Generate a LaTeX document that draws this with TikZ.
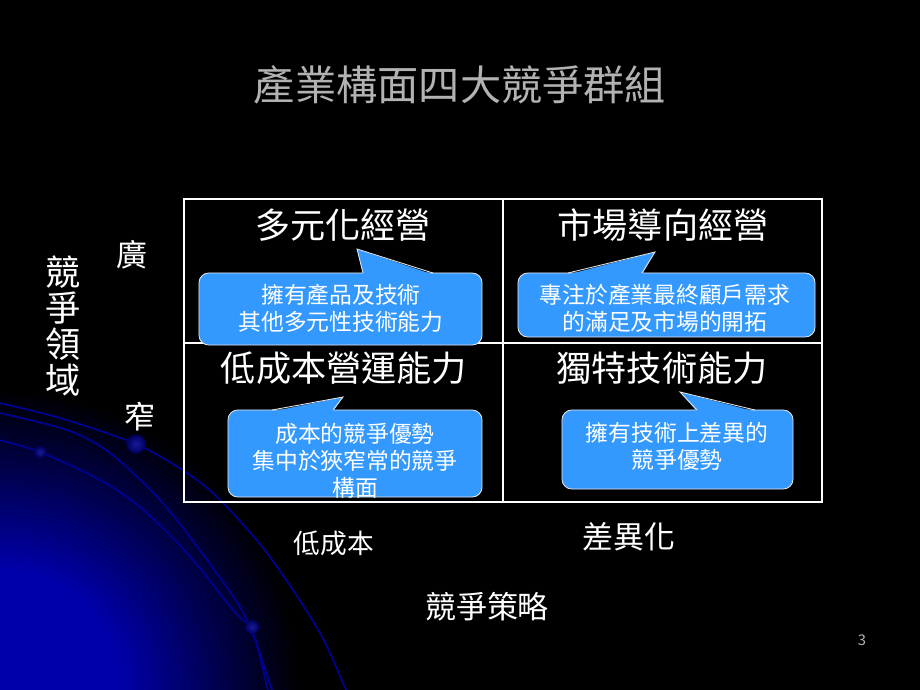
\documentclass[tikz,border=0pt]{standalone}
\usepackage{fontspec}
\setmainfont{Noto Sans CJK TC}
\usepackage{xcolor}
\usetikzlibrary{positioning}

\definecolor{calloutblue}{RGB}{51,153,255}
\definecolor{titlegray}{RGB}{178,178,178}
\definecolor{swirlblue}{RGB}{0,0,150}
\definecolor{glowblue}{RGB}{0,0,170}
\definecolor{dotinner}{RGB}{25,25,150}
\definecolor{dotouter}{RGB}{0,0,95}
\pgfdeclareradialshading{cornerglow}{\pgfpoint{0bp}{0bp}}{color(0bp)=(glowblue); color(10bp)=(glowblue); color(25bp)=(black); color(50bp)=(black)}

\begin{document}
\begin{tikzpicture}[
    x=0.025cm, y=-0.025cm,
    titletext/.style={text=titlegray, font=\fontsize{29.3}{33}\selectfont, inner sep=0pt},
    cellhead/.style={text=white, font=\fontsize{25}{28}\selectfont, inner sep=0pt},
    axislabel/.style={text=white, inner sep=0pt},
    calloutbox/.style={rectangle, rounded corners=7pt, fill=calloutblue, draw=white!80!gray, line width=0.6pt, inner sep=0pt},
    callouttext/.style={text=white, align=center, font=\fontsize{16.2}{19.2}\selectfont, inner sep=0pt},
    pointerfill/.style={fill=calloutblue},
    pointerline/.style={draw=white!80!gray, line width=0.6pt},
    gridline/.style={draw=white, line width=1.3pt},
    swirl/.style={draw=swirlblue, line width=1.2pt},
    dot/.style={inner color=dotinner, outer color=dotouter}
]

% === Background ===
\fill[black] (0,0) rectangle (920,690);
\begin{scope}
\clip (0,0) rectangle (920,690);
\shade[shading=cornerglow] (0,690) circle (300);
\draw[swirl] plot[smooth] coordinates {(-5,402) (60,418) (136,444) (187,473) (220,500) (267,553) (320,633) (350,700)};
\draw[swirl] plot[smooth] coordinates {(-5,412) (67,430) (110,453) (160,500) (207,560) (247,620) (275,700)};
\draw[swirl] plot[smooth] coordinates {(-5,439) (40,452) (100,480) (140,507) (187,553) (233,610) (253,633) (270,700)};
\shade[dot] (40,452) circle (6);
\shade[dot] (136,444) circle (9.5);
\shade[dot] (252,627) circle (7);
\end{scope}

% === Title ===
\node[titletext] (title) at (460,85) {產業構面四大競爭群組};

% === Matrix frame ===
\node[draw=white, line width=1.3pt, minimum width=15.95cm, minimum height=7.575cm, inner sep=0pt] (frame) at (503,350.5) {};
\coordinate (midcol) at (503,343);
\draw[gridline] (frame.north -| midcol) -- (frame.south -| midcol);
\draw[gridline] (frame.west |- midcol) -- (frame.east |- midcol);

% Cell headings
\node[cellhead] (headA) at (343,225) {多元化經營};
\node[cellhead] (headB) at (663,225) {市場導向經營};
\node[cellhead] (headC) at (344,368) {低成本營運能力};
\node[cellhead] (headD) at (662,368) {獨特技術能力};

% === Callouts ===
\node[calloutbox, minimum width=7.075cm, minimum height=1.8cm] (boxA) at (340.5,309) {};
\node[calloutbox, minimum width=7.425cm, minimum height=1.6cm] (boxB) at (666.5,305) {};
\node[calloutbox, minimum width=6.35cm, minimum height=2.175cm] (boxC) at (355,453.5) {};
\node[calloutbox, minimum width=5.775cm, minimum height=1.975cm] (boxD) at (677.5,449.5) {};

\coordinate (tipA) at (357,249);
\coordinate (tipB) at (655,252);
\coordinate (tipC) at (343,397);
\coordinate (tipD) at (680,392);

\fill[pointerfill] (tipA) -- (363,274.5) -- (433,274.5) -- cycle;
\draw[pointerline] (363,273) -- (tipA) -- (433,273);
\fill[pointerfill] (tipB) -- (568,274.5) -- (642,274.5) -- cycle;
\draw[pointerline] (568,273) -- (tipB) -- (642,273);
\fill[pointerfill] (tipC) -- (272,411.5) -- (333,411.5) -- cycle;
\draw[pointerline] (272,410) -- (tipC) -- (333,410);
\fill[pointerfill] (tipD) -- (697,411.5) -- (755,411.5) -- cycle;
\draw[pointerline] (697,410) -- (tipD) -- (755,410);

\node[callouttext] (textA) at (341,308.5) {擁有產品及技術\\其他多元性技術能力};
\node[callouttext] (textB) at (665,308.5) {專注於產業最終顧戶需求\\的滿足及市場的開拓};
\node[callouttext] (textC) at (355,461) {成本的競爭優勢\\集中於狹窄常的競爭\\構面};
\node[callouttext] (textD) at (677,446.5) {擁有技術上差異的\\競爭優勢};

% === Axis labels ===
\node[axislabel, align=center, font=\fontsize{25}{25.4}\selectfont] (scope) at (63,326) {競\\爭\\領\\域};
\node[axislabel, font=\fontsize{22}{24}\selectfont] (wide) at (132,255) {廣};
\node[axislabel, font=\fontsize{22}{24}\selectfont] (narrow) at (140,417) {窄};
\node[axislabel, font=\fontsize{19}{22}\selectfont] (lowcost) at (334,543) {低成本};
\node[axislabel, font=\fontsize{22}{24}\selectfont] (differ) at (629,537) {差異化};
\node[axislabel, font=\fontsize{22}{24}\selectfont] (strategy) at (487,607) {競爭策略};

\node[text=titlegray, font=\fontsize{10.5}{12}\selectfont, inner sep=0pt] (pagenum) at (862,640) {3};

\end{tikzpicture}
\end{document}
